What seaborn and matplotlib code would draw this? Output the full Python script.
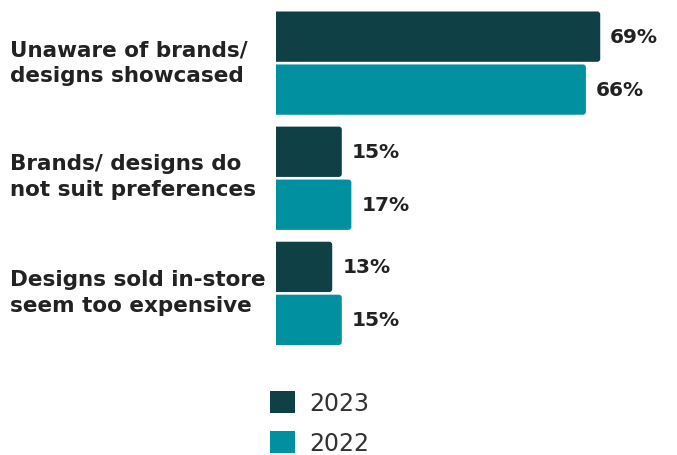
import matplotlib
matplotlib.use("Agg")
import matplotlib.pyplot as plt
from matplotlib.patches import FancyBboxPatch, Patch
import seaborn as sns
import pandas as pd

categories = [
    "Unaware of brands/\ndesigns showcased",
    "Brands/ designs do\nnot suit preferences",
    "Designs sold in-store\nseem too expensive",
]
years = ["2023", "2022"]
values_2023 = [69, 15, 13]
values_2022 = [66, 17, 15]

colors = {"2023": "#0E4045", "2022": "#0090A0"}

df = pd.DataFrame({
    "reason": categories * 2,
    "year": ["2023"] * 3 + ["2022"] * 3,
    "pct": values_2023 + values_2022,
})

sns.set_theme(style="white")
plt.rcParams["font.family"] = ["DejaVu Sans"]

W, H = 677, 456
fig = plt.figure(figsize=(W / 100, H / 100), dpi=100)
ax_left = 276
ax = fig.add_axes([ax_left / W, 0, 1 - ax_left / W, 1])

sns.barplot(data=df, y="reason", x="pct", hue="year", hue_order=years,
            palette=colors, saturation=1, orient="h", width=0.92, gap=0.05,
            ax=ax, legend=False)

# x scale: zero sits just left of the visible bar start
px_per_unit = 4.786
x0_lim = (ax_left - 270) / px_per_unit
ax.set_xlim(x0_lim, x0_lim + (W - ax_left) / px_per_unit)
ax.set_ylim(3.404, -0.557)

# Swap plain rectangles for bars with softly rounded ends
px_x = 1 / px_per_unit
px_y = (3.404 + 0.557) / H
r = 3.0
for bar in list(ax.patches):
    w = bar.get_width()
    if w <= 0:
        continue
    x0, y0, h = bar.get_x(), bar.get_y(), bar.get_height()
    fc = bar.get_facecolor()
    bar.set_visible(False)
    fb = FancyBboxPatch((x0 - 3, y0), w + 3, h,
                        boxstyle=f"round,pad=0,rounding_size={r * px_x}",
                        mutation_aspect=px_y / px_x,
                        facecolor=fc, edgecolor="none", clip_on=True)
    ax.add_patch(fb)
    ax.text(x0 + w + 10 * px_x, y0 + h / 2, f"{int(round(w))}%",
            va="center", ha="left", fontsize=14.5, fontweight="bold",
            color="#222222")

ax.set_yticks([])
ax.set_xticks([])
ax.set_xlabel("")
ax.set_ylabel("")
for s in ax.spines.values():
    s.set_visible(False)

# Category labels on the left
centers = [63, 177, 293]
for lab, cy in zip(categories, centers):
    fig.text(10 / W, 1 - cy / H, lab, ha="left", va="center",
             fontsize=15.5, fontweight="bold", color="#222222",
             linespacing=1.32)

handles = [Patch(facecolor=colors[y], edgecolor="none") for y in years]
fig.legend(handles, years, loc="upper left",
           bbox_to_anchor=(270 / W, 1 - 392 / H),
           frameon=False, fontsize=17, handlelength=1.07, handleheight=1.07,
           handletextpad=0.6, labelspacing=0.68, borderpad=0,
           borderaxespad=0, labelcolor="#333333")

fig.savefig("out.png", dpi=100)
